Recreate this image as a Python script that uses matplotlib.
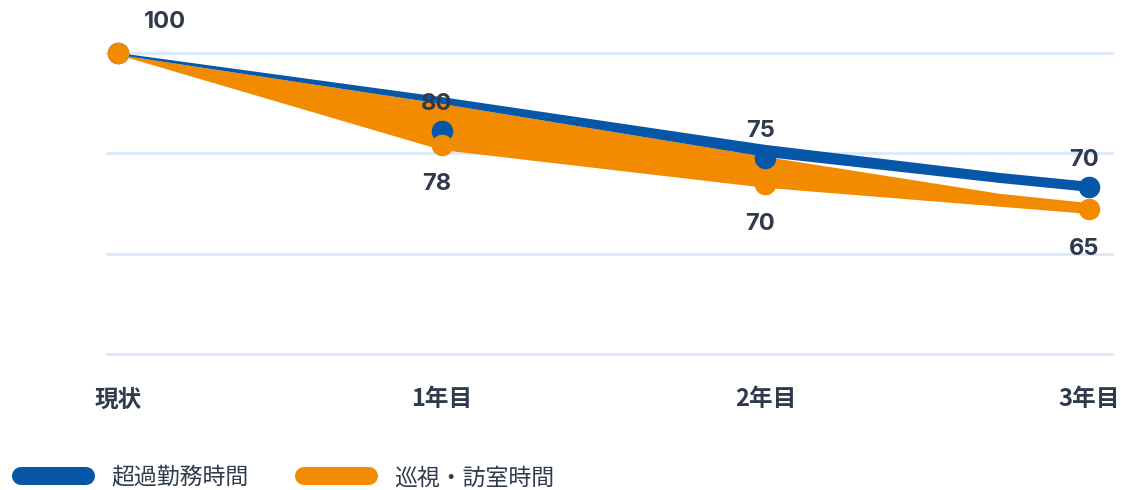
#!/usr/bin/env python3
"""超過勤務時間 / 巡視・訪室時間 の推移チャート。"""

import matplotlib
matplotlib.use("Agg")
import matplotlib.pyplot as plt
from matplotlib.lines import Line2D

plt.rcParams["font.family"] = ["Noto Sans CJK JP", "DejaVu Sans"]

BLUE = "#0757a8"
ORANGE = "#f38b00"
TEXT = "#2f3b4c"
GRID = "#d9e8fb"

# カテゴリ
periods = ["現状", "1年目", "2年目", "3年目"]
series_names = ["超過勤務時間", "巡視・訪室時間"]

# データラベル（表示値）
overtime_labels = [100, 80, 75, 70]
rounds_labels = [100, 78, 70, 65]

# マーカー位置
overtime_marks = [100, 80.5, 73.8, 66.6]
rounds_marks = [100, 77.1, 67.3, 61.1]

# 帯の形状
blue_x = [0, 1, 2, 2.725, 3]
blue_top = [100, 89.0, 77.1, 70.1, 67.9]
blue_bottom = [99.5, 87.3, 74.1, 67.6, 65.4]
orange_top_x = [0, 1, 2, 2.725, 3]
orange_top = [99.5, 87.3, 74.1, 64.9, 62.6]
orange_bottom_x = [0, 1, 2, 3]
orange_bottom = [99.5, 75.8, 66.4, 59.9]

grid_vals = [100, 75, 50, 25]

fig = plt.figure(figsize=(11.21, 4.90), dpi=100)
ax = fig.add_axes([107 / 1121, 136 / 490, 1005 / 1121, 334 / 490])
ax.set_xlim(-0.034, 3.071)
ax.set_ylim(25, 108.2)
for s in ax.spines.values():
    s.set_visible(False)
for g in grid_vals:
    ax.axhline(g, color=GRID, lw=2, zorder=0, clip_on=False)

# 巡視・訪室時間の帯
ax.fill(orange_top_x + orange_bottom_x[::-1], orange_top + orange_bottom[::-1],
        color=ORANGE, lw=0, zorder=2)
# 超過勤務時間の帯
ax.fill(blue_x + blue_x[::-1], blue_top + blue_bottom[::-1],
        color=BLUE, lw=0, zorder=3)

xs = range(len(periods))
ax.plot(xs, overtime_marks, "o", ms=14.5, color=BLUE, zorder=4, clip_on=False)
ax.plot(xs, rounds_marks, "o", ms=14.5, color=ORANGE, zorder=5, clip_on=False)

lab_kw = dict(textcoords="offset points", ha="center", va="center",
              fontsize=17, fontweight="bold", color=TEXT, zorder=6,
              family=["Inter", "Noto Sans CJK JP", "DejaVu Sans"])
for i, (v, y) in enumerate(zip(overtime_labels, overtime_marks)):
    off = (34, 22) if i == 0 else (-3.5, 19.5)
    ax.annotate(str(v), (i, y), xytext=off, **lab_kw)
for i, (v, y) in enumerate(zip(rounds_labels, rounds_marks)):
    if i == 0:
        continue
    ax.annotate(str(v), (i, y), xytext=(-3.5, -28.5), **lab_kw)

ax.set_yticks([])
ax.set_xticks(list(xs))
ax.set_xticklabels(periods, fontsize=17, fontweight="bold", color=TEXT)
ax.tick_params(axis="x", length=0, pad=24)

handles = [Line2D([], [], color=BLUE, lw=13, solid_capstyle="round"),
           Line2D([], [], color=ORANGE, lw=13, solid_capstyle="round")]
fig.legend(handles, series_names, loc="center left",
           bbox_to_anchor=(20.5 / 1121, 12 / 490), ncol=2, frameon=False,
           borderaxespad=0, borderpad=0, handlelength=2.86, handletextpad=1.1,
           columnspacing=2.4, prop={"size": 16.5}, labelcolor=TEXT)

fig.savefig("out.png", dpi=100, facecolor="white")
